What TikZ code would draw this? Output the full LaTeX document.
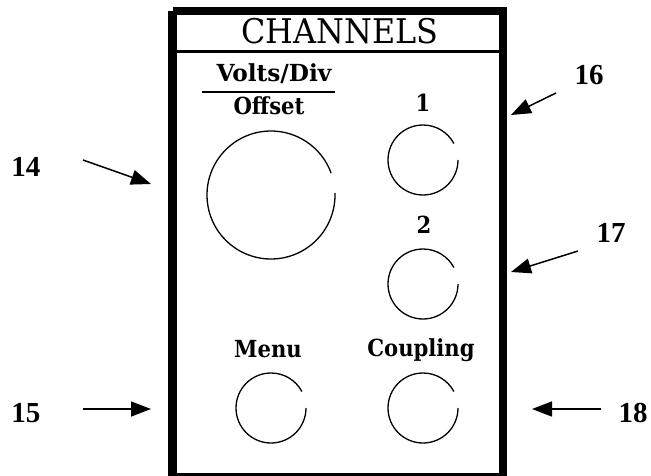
\documentclass[tikz,border=0pt]{standalone}
\usepackage{fontspec}
\setmainfont{Liberation Serif}
\newfontfamily\panelcond{DejaVu Serif Condensed}
\usetikzlibrary{arrows.meta}
\tikzset{
  frame/.style={line width=8.5pt},
  knob/.style={line width=1.3pt},
  callout/.style={line width=1.5pt,-{Triangle[length=20pt,width=15pt]}},
  num/.style={font=\fontsize{29}{29}\selectfont\bfseries,inner sep=0pt},
  lbl/.style={font=\panelcond\bfseries\fontsize{23.5}{23.5}\selectfont,inner sep=0pt},
}
% knob with a small gap at the right, between -gap1 and -gap2 degrees
\newcommand{\knobarc}[4]{% center, radius, gap start, gap end
  \draw[knob] (#1) ++(-#3:#2) arc[start angle=-#3, end angle=360-#4, radius=#2];}
\begin{document}
\begin{tikzpicture}[x=1pt,y=-1pt]
\useasboundingbox (0,0) rectangle (651,476);

% panel outline and title strip
\draw[frame] (172.5,11) -- (503,11) -- (503,480) (172.5,11) -- (172.5,480) (172.5,477.5) -- (503,477.5);
\draw[line width=3pt] (172.5,51.5) -- (503,51.5);
\node[font=\panelcond\fontsize{34}{34}\selectfont,inner sep=0pt,xscale=1.04] (title) at (340,31) {CHANNELS};

% Volts/Div over Offset
\node[lbl,xscale=1.1] (volts) at (274,74) {Volts/Div};
\draw[line width=1.6pt] (202,92) -- (335,92);
\node[lbl] (offset) at (269,106) {Offset};
\coordinate (bigc) at (271,195);
\knobarc{bigc}{64}{2}{20}

% channel selectors
\node[lbl] (one) at (423,103) {1};
\coordinate (c1) at (423,160);
\knobarc{c1}{35}{0}{28}
\node[lbl] (two) at (424,225) {2};
\coordinate (c2) at (423,284);
\knobarc{c2}{35}{0}{28}

% menu and coupling
\node[lbl] (menu) at (268,349) {Menu};
\coordinate (cm) at (271,408);
\knobarc{cm}{35}{0}{28}
\node[lbl] (coup) at (421,350) {Coupling};
\coordinate (cc) at (423,408);
\knobarc{cc}{35}{0}{28}

% callout numbers and arrows
\node[num] (n14) at (26,167) {14};
\coordinate (t14) at (83,160);
\coordinate (h14) at (151,184);
\draw[callout] (t14) -- (h14);

\node[num] (n15) at (26,413) {15};
\coordinate (t15) at (83,409);
\coordinate (h15) at (151,409);
\draw[callout] (t15) -- (h15);

\node[num] (n16) at (589,75) {16};
\coordinate (t16) at (556,93);
\coordinate (h16) at (511,115);
\draw[callout] (t16) -- (h16);

\node[num] (n17) at (611,233) {17};
\coordinate (t17) at (578,251);
\coordinate (h17) at (511,272);
\draw[callout] (t17) -- (h17);

\node[num] (n18) at (633,413) {18};
\coordinate (t18) at (601,409);
\coordinate (h18) at (532,409);
\draw[callout] (t18) -- (h18);
\end{tikzpicture}
\end{document}
